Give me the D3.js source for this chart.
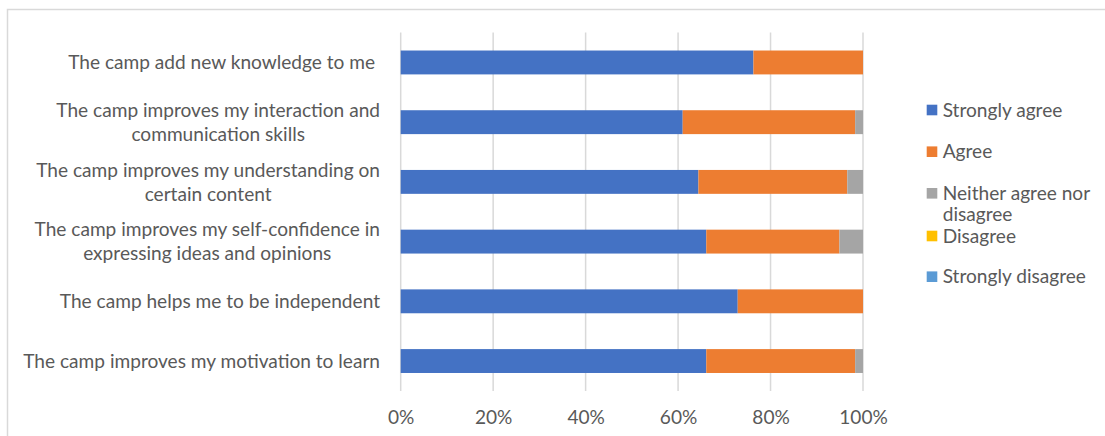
<!DOCTYPE html>
<html>
<head>
<meta charset="utf-8">
<script src="https://cdn.jsdelivr.net/npm/d3@7"></script>
<style>
  html, body { margin: 0; padding: 0; background: #fff; overflow: hidden; }
  svg { display: block; }
  text { font-family: Lato, "Open Sans", sans-serif; fill: #595959; }
</style>
</head>
<body>
<svg id="chart" width="1105" height="436"></svg>
<script>
// ---- data (percent of respondents) ----
const categories = [
  "The camp add new knowledge to me ",
  "The camp improves my interaction and\ncommunication skills",
  "The camp improves my understanding on\ncertain content",
  "The camp improves my self-confidence in\nexpressing ideas and opinions",
  "The camp helps me to be independent",
  "The camp improves my motivation to learn"
];
const seriesNames = ["Strongly agree", "Agree", "Neither agree nor\ndisagree", "Disagree", "Strongly disagree"];
const seriesColors = ["#4472C4", "#ED7D31", "#A5A5A5", "#FFC000", "#5B9BD5"];
const stronglyAgree    = [76.3, 61.0, 64.4, 66.1, 72.9, 66.1];
const agree            = [23.7, 37.3, 32.2, 28.8, 27.1, 32.2];
const neither          = [0.0, 1.7, 3.4, 5.1, 0.0, 1.7];
const disagree         = [0, 0, 0, 0, 0, 0];
const stronglyDisagree = [0, 0, 0, 0, 0, 0];
const tickValues = [0, 0.2, 0.4, 0.6, 0.8, 1.0];

const seriesValues = [stronglyAgree, agree, neither, disagree, stronglyDisagree];

// ---- build table ----
const keys = seriesNames;
const table = categories.map((c, i) => {
  const total = seriesValues.reduce((s, arr) => s + arr[i], 0);
  const row = { category: c };
  keys.forEach((k, j) => row[k] = seriesValues[j][i] / total);
  return row;
});
const stacked = d3.stack().keys(keys)(table);

const svg = d3.select("#chart");

// fit font size to the reference label widths
const probe = svg.append("text").attr("font-size", 20).text("The camp improves my motivation to learn");
const pw = probe.node().getComputedTextLength();
probe.remove();
const fs = 20 * 357 / pw;

// frame
svg.append("rect")
  .attr("x", 7.5).attr("y", 9.5)
  .attr("width", 1200).attr("height", 500)
  .attr("fill", "none").attr("stroke", "#D9D9D9").attr("stroke-width", 1.5);

const x = d3.scaleLinear().domain([0, 1]).range([400.7, 863]);
const y = d3.scaleBand().domain(categories).range([32.6, 390.9]).paddingInner(0.6).paddingOuter(0.3);

// gridlines
svg.append("g").selectAll("line").data(tickValues).join("line")
  .attr("x1", d => x(d)).attr("x2", d => x(d))
  .attr("y1", 32.6).attr("y2", 390.9)
  .attr("stroke", "#D9D9D9").attr("stroke-width", 1.5);

// bars
const color = d3.scaleOrdinal().domain(keys).range(seriesColors);
svg.append("g").selectAll("g").data(stacked).join("g")
  .attr("fill", d => color(d.key))
  .selectAll("rect").data(d => d).join("rect")
  .attr("x", d => x(d[0]))
  .attr("width", d => Math.max(0, x(d[1]) - x(d[0])))
  .attr("y", d => y(d.data.category))
  .attr("height", y.bandwidth());

// x axis tick labels
const xAxis = d3.axisBottom(x).tickValues(tickValues).tickFormat(d3.format(".0%")).tickSize(0).tickPadding(0);
const gx = svg.append("g").attr("transform", "translate(0,407)").call(xAxis);
gx.select(".domain").remove();
gx.selectAll("text").attr("font-size", fs).attr("fill", "#595959")
  .style("font-family", "Lato, 'Open Sans', sans-serif").attr("dy", "0.9em");

// category labels
const labelRight = 380;
const lineH = 24;
categories.forEach(c => {
  const lines = c.split("\n");
  const cy = y(c) + y.bandwidth() / 2;
  const g = svg.append("g");
  const texts = lines.map((ln, i) => g.append("text")
    .attr("xml:space", "preserve").style("white-space", "pre")
    .attr("font-size", fs)
    .attr("y", cy + (i - (lines.length - 1) / 2) * lineH)
    .attr("dy", "0.35em")
    .text(ln));
  if (lines.length === 1) {
    texts[0].attr("x", labelRight).attr("text-anchor", "end");
  } else {
    const maxW = d3.max(texts, t => t.node().getComputedTextLength());
    const cx = labelRight - maxW / 2;
    texts.forEach(t => t.attr("x", cx).attr("text-anchor", "middle"));
  }
});

// legend
const legend = svg.append("g");
const legYs = [110, 151.7, 193.3, 236, 276.7];
keys.forEach((k, i) => {
  const cy = legYs[i];
  legend.append("rect")
    .attr("x", 926.7).attr("y", cy - 5.3).attr("width", 10.6).attr("height", 10.6)
    .attr("fill", seriesColors[i]);
  k.split("\n").forEach((ln, j) => {
    legend.append("text")
      .attr("x", 942.7).attr("y", cy + j * 21).attr("dy", "0.35em")
      .attr("font-size", fs).text(ln);
  });
});
</script>
</body>
</html>
